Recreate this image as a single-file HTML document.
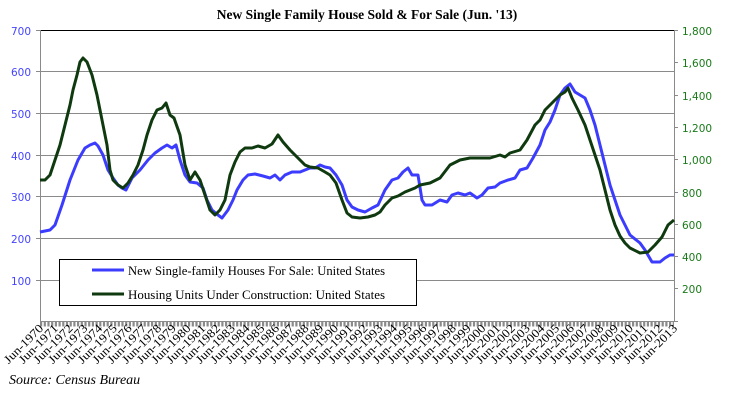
<!DOCTYPE html>
<html><head><meta charset="utf-8"><style>
body{margin:0;background:#fff;}
svg{display:block;}
</style></head><body>
<svg width="734" height="401" xmlns="http://www.w3.org/2000/svg">
<rect width="734" height="401" fill="#fff"/>
<text x="367" y="19" text-anchor="middle" font-family="Liberation Serif, serif" font-weight="bold" font-size="13.5">New Single Family House Sold &amp; For Sale (Jun. '13)</text>
<g stroke="#8a8a8a" stroke-width="1">
<line x1="40" y1="30.5" x2="674" y2="30.5" stroke="#000"/>
<line x1="40" y1="71.5" x2="674" y2="71.5"/>
<line x1="40" y1="113.5" x2="674" y2="113.5"/>
<line x1="40" y1="155.5" x2="674" y2="155.5"/>
<line x1="40" y1="196.5" x2="674" y2="196.5"/>
<line x1="40" y1="238.5" x2="674" y2="238.5"/>
<line x1="40" y1="280.5" x2="674" y2="280.5"/>
<line x1="40.5" y1="30" x2="40.5" y2="322"/>
<line x1="674.5" y1="30" x2="674.5" y2="322"/>
<line x1="40" y1="321.5" x2="675" y2="321.5"/>
<line x1="36" y1="30.5" x2="40" y2="30.5"/><line x1="36" y1="71.5" x2="40" y2="71.5"/><line x1="36" y1="113.5" x2="40" y2="113.5"/><line x1="36" y1="155.5" x2="40" y2="155.5"/><line x1="36" y1="196.5" x2="40" y2="196.5"/><line x1="36" y1="238.5" x2="40" y2="238.5"/><line x1="36" y1="280.5" x2="40" y2="280.5"/>
<line x1="674" y1="30.5" x2="678" y2="30.5"/><line x1="674" y1="62.5" x2="678" y2="62.5"/><line x1="674" y1="95.5" x2="678" y2="95.5"/><line x1="674" y1="127.5" x2="678" y2="127.5"/><line x1="674" y1="159.5" x2="678" y2="159.5"/><line x1="674" y1="192.5" x2="678" y2="192.5"/><line x1="674" y1="224.5" x2="678" y2="224.5"/><line x1="674" y1="256.5" x2="678" y2="256.5"/><line x1="674" y1="288.5" x2="678" y2="288.5"/><line x1="674" y1="321.5" x2="678" y2="321.5"/>
</g>
<line x1="40" y1="324" x2="674" y2="324" stroke="#8a8a8a" stroke-width="5" stroke-dasharray="2.2 1.5"/>
<g font-family="DejaVu Sans, sans-serif" font-size="10.5" fill="#4444ff" text-anchor="end">
<text x="31" y="35">700</text><text x="31" y="76">600</text><text x="31" y="118">500</text><text x="31" y="160">400</text><text x="31" y="201">300</text><text x="31" y="243">200</text><text x="31" y="285">100</text>
</g>
<g font-family="DejaVu Sans, sans-serif" font-size="10.5" fill="#1a7a1a" text-anchor="start">
<text x="682" y="35">1,800</text><text x="682" y="67">1,600</text><text x="682" y="100">1,400</text><text x="682" y="132">1,200</text><text x="682" y="164">1,000</text><text x="682" y="197">800</text><text x="682" y="229">600</text><text x="682" y="261">400</text><text x="682" y="293">200</text>
</g>
<polyline fill="none" stroke="#3c3cff" stroke-width="3" stroke-linejoin="round" points="40,232 50,230 55,225 62,205 70,180 78,160 85,148 90,145 95,143 98,146 103,155 108,170 113,178 118,185 122,188 126,190 132,178 140,170 148,160 155,153 162,148 167,145 172,148 176,145 180,160 185,175 190,182 197,183 203,188 207,200 212,210 218,215 222,218 228,210 233,200 237,190 243,180 248,175 255,174 263,176 270,178 275,175 280,180 285,175 292,172 300,172 305,170 310,168 315,168 320,165 325,167 330,168 336,175 342,185 347,200 352,207 358,210 365,212 372,208 378,205 385,190 392,180 398,178 403,172 408,168 412,175 418,175 422,200 425,205 432,205 440,200 447,202 452,195 458,193 465,195 470,193 477,198 482,195 488,188 495,187 500,183 508,180 515,178 520,170 527,168 533,158 540,145 545,130 550,122 555,110 560,95 565,88 570,84 575,92 580,95 585,98 590,110 595,125 600,145 605,165 610,185 615,200 620,215 625,225 630,235 640,243 645,250 652,262 660,262 665,258 670,255 674,255"/>
<polyline fill="none" stroke="#0f3a0f" stroke-width="3" stroke-linejoin="round" points="40,180 45,180 50,175 55,160 60,145 65,125 70,105 73,90 77,75 80,62 83,58 87,62 92,75 97,95 103,125 107,145 110,170 113,180 118,185 123,188 128,183 133,175 138,165 143,150 147,135 152,120 157,110 162,108 166,103 170,115 174,118 180,135 185,165 190,180 195,172 200,180 205,195 210,210 215,215 220,210 225,200 230,175 235,162 240,152 245,148 252,148 258,146 265,148 272,144 278,135 283,142 290,150 295,155 300,160 305,165 310,167 318,168 325,172 330,175 336,183 342,200 347,213 352,217 360,218 368,217 375,215 380,212 385,205 392,198 398,196 405,192 410,190 415,188 420,185 430,183 440,178 450,165 460,160 470,158 480,158 490,158 500,155 505,157 510,153 520,150 527,140 535,125 540,120 545,110 550,105 555,100 560,95 565,92 568,88 572,98 578,110 585,125 590,140 595,155 600,170 605,190 610,210 615,225 620,236 625,243 630,248 640,253 648,252 655,245 662,237 668,225 674,220"/>
<rect x="59.5" y="259.5" width="357" height="46" fill="#fff" stroke="#000" stroke-width="1"/>
<line x1="92" y1="270" x2="124" y2="270" stroke="#3c3cff" stroke-width="3"/>
<line x1="92" y1="294" x2="124" y2="294" stroke="#0f3a0f" stroke-width="3"/>
<g font-family="Liberation Serif, serif" font-size="12.5" fill="#000">
<text x="128" y="275" textLength="257" lengthAdjust="spacingAndGlyphs">New Single-family Houses For Sale: United States</text>
<text x="128" y="299" textLength="257" lengthAdjust="spacingAndGlyphs">Housing Units Under Construction: United States</text>
</g>
<g font-family="Liberation Serif, serif" font-size="12" fill="#000" text-anchor="end">
<text transform="translate(44,329) rotate(-45)" textLength="50" lengthAdjust="spacingAndGlyphs">Jun-1970</text>
<text transform="translate(58.7,329) rotate(-45)" textLength="50" lengthAdjust="spacingAndGlyphs">Jun-1971</text>
<text transform="translate(73.5,329) rotate(-45)" textLength="50" lengthAdjust="spacingAndGlyphs">Jun-1972</text>
<text transform="translate(88.2,329) rotate(-45)" textLength="50" lengthAdjust="spacingAndGlyphs">Jun-1973</text>
<text transform="translate(103,329) rotate(-45)" textLength="50" lengthAdjust="spacingAndGlyphs">Jun-1974</text>
<text transform="translate(117.7,329) rotate(-45)" textLength="50" lengthAdjust="spacingAndGlyphs">Jun-1975</text>
<text transform="translate(132.5,329) rotate(-45)" textLength="50" lengthAdjust="spacingAndGlyphs">Jun-1976</text>
<text transform="translate(147.2,329) rotate(-45)" textLength="50" lengthAdjust="spacingAndGlyphs">Jun-1977</text>
<text transform="translate(162,329) rotate(-45)" textLength="50" lengthAdjust="spacingAndGlyphs">Jun-1978</text>
<text transform="translate(176.7,329) rotate(-45)" textLength="50" lengthAdjust="spacingAndGlyphs">Jun-1979</text>
<text transform="translate(191.4,329) rotate(-45)" textLength="50" lengthAdjust="spacingAndGlyphs">Jun-1980</text>
<text transform="translate(206.2,329) rotate(-45)" textLength="50" lengthAdjust="spacingAndGlyphs">Jun-1981</text>
<text transform="translate(220.9,329) rotate(-45)" textLength="50" lengthAdjust="spacingAndGlyphs">Jun-1982</text>
<text transform="translate(235.7,329) rotate(-45)" textLength="50" lengthAdjust="spacingAndGlyphs">Jun-1983</text>
<text transform="translate(250.4,329) rotate(-45)" textLength="50" lengthAdjust="spacingAndGlyphs">Jun-1984</text>
<text transform="translate(265.2,329) rotate(-45)" textLength="50" lengthAdjust="spacingAndGlyphs">Jun-1985</text>
<text transform="translate(279.9,329) rotate(-45)" textLength="50" lengthAdjust="spacingAndGlyphs">Jun-1986</text>
<text transform="translate(294.6,329) rotate(-45)" textLength="50" lengthAdjust="spacingAndGlyphs">Jun-1987</text>
<text transform="translate(309.4,329) rotate(-45)" textLength="50" lengthAdjust="spacingAndGlyphs">Jun-1988</text>
<text transform="translate(324.1,329) rotate(-45)" textLength="50" lengthAdjust="spacingAndGlyphs">Jun-1989</text>
<text transform="translate(338.9,329) rotate(-45)" textLength="50" lengthAdjust="spacingAndGlyphs">Jun-1990</text>
<text transform="translate(353.6,329) rotate(-45)" textLength="50" lengthAdjust="spacingAndGlyphs">Jun-1991</text>
<text transform="translate(368.4,329) rotate(-45)" textLength="50" lengthAdjust="spacingAndGlyphs">Jun-1992</text>
<text transform="translate(383.1,329) rotate(-45)" textLength="50" lengthAdjust="spacingAndGlyphs">Jun-1993</text>
<text transform="translate(397.9,329) rotate(-45)" textLength="50" lengthAdjust="spacingAndGlyphs">Jun-1994</text>
<text transform="translate(412.6,329) rotate(-45)" textLength="50" lengthAdjust="spacingAndGlyphs">Jun-1995</text>
<text transform="translate(427.3,329) rotate(-45)" textLength="50" lengthAdjust="spacingAndGlyphs">Jun-1996</text>
<text transform="translate(442.1,329) rotate(-45)" textLength="50" lengthAdjust="spacingAndGlyphs">Jun-1997</text>
<text transform="translate(456.8,329) rotate(-45)" textLength="50" lengthAdjust="spacingAndGlyphs">Jun-1998</text>
<text transform="translate(471.6,329) rotate(-45)" textLength="50" lengthAdjust="spacingAndGlyphs">Jun-1999</text>
<text transform="translate(486.3,329) rotate(-45)" textLength="50" lengthAdjust="spacingAndGlyphs">Jun-2000</text>
<text transform="translate(501.1,329) rotate(-45)" textLength="50" lengthAdjust="spacingAndGlyphs">Jun-2001</text>
<text transform="translate(515.8,329) rotate(-45)" textLength="50" lengthAdjust="spacingAndGlyphs">Jun-2002</text>
<text transform="translate(530.6,329) rotate(-45)" textLength="50" lengthAdjust="spacingAndGlyphs">Jun-2003</text>
<text transform="translate(545.3,329) rotate(-45)" textLength="50" lengthAdjust="spacingAndGlyphs">Jun-2004</text>
<text transform="translate(560,329) rotate(-45)" textLength="50" lengthAdjust="spacingAndGlyphs">Jun-2005</text>
<text transform="translate(574.8,329) rotate(-45)" textLength="50" lengthAdjust="spacingAndGlyphs">Jun-2006</text>
<text transform="translate(589.5,329) rotate(-45)" textLength="50" lengthAdjust="spacingAndGlyphs">Jun-2007</text>
<text transform="translate(604.3,329) rotate(-45)" textLength="50" lengthAdjust="spacingAndGlyphs">Jun-2008</text>
<text transform="translate(619,329) rotate(-45)" textLength="50" lengthAdjust="spacingAndGlyphs">Jun-2009</text>
<text transform="translate(633.8,329) rotate(-45)" textLength="50" lengthAdjust="spacingAndGlyphs">Jun-2010</text>
<text transform="translate(648.5,329) rotate(-45)" textLength="50" lengthAdjust="spacingAndGlyphs">Jun-2011</text>
<text transform="translate(663.3,329) rotate(-45)" textLength="50" lengthAdjust="spacingAndGlyphs">Jun-2012</text>
<text transform="translate(678,329) rotate(-45)" textLength="50" lengthAdjust="spacingAndGlyphs">Jun-2013</text>
</g>
<text x="9" y="384" font-family="Liberation Serif, serif" font-style="italic" font-size="14" fill="#000">Source: Census Bureau</text>
</svg>
</body></html>
